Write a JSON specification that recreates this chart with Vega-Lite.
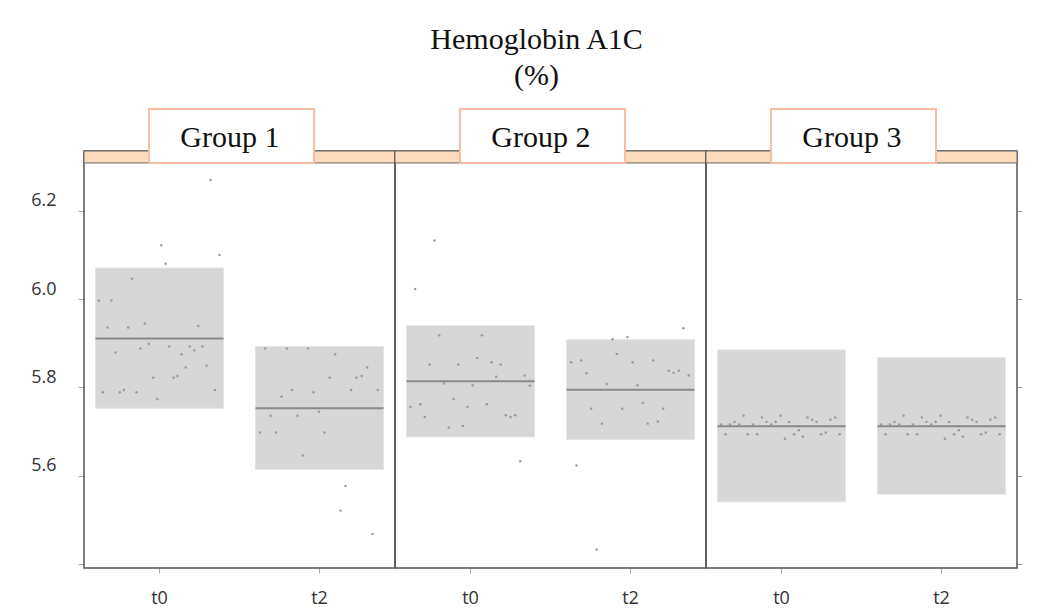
{
  "$schema": "https://vega.github.io/schema/vega-lite/v6.json",
  "padding": {"left": 30, "top": 25, "right": 20, "bottom": 4},
  "background": "white",
  "bounds": "flush",
  "title": {"text": ["Hemoglobin A1C", "(%)"], "font": "Liberation Serif", "fontSize": 30, "fontWeight": "normal", "color": "#111", "anchor": "middle", "dx": 10, "offset": 16, "lineHeight": 36},
  "data": {"values": [
    {"k":"box","g":"Group 1","t":"t0","lo":5.753,"hi":6.0705,"m":5.911},
    {"k":"box","g":"Group 1","t":"t2","lo":5.614,"hi":5.893,"m":5.753},
    {"k":"box","g":"Group 2","t":"t0","lo":5.688,"hi":5.940,"m":5.814},
    {"k":"box","g":"Group 2","t":"t2","lo":5.682,"hi":5.908,"m":5.795},
    {"k":"box","g":"Group 3","t":"t0","lo":5.541,"hi":5.885,"m":5.712},
    {"k":"box","g":"Group 3","t":"t2","lo":5.558,"hi":5.868,"m":5.712},
    {"k":"pt","g":"Group 1","t":"t0","j":0.319,"v":6.270},
    {"k":"pt","g":"Group 1","t":"t0","j":0.011,"v":6.122},
    {"k":"pt","g":"Group 1","t":"t0","j":0.375,"v":6.100},
    {"k":"pt","g":"Group 1","t":"t0","j":0.038,"v":6.080},
    {"k":"pt","g":"Group 1","t":"t0","j":-0.171,"v":6.046},
    {"k":"pt","g":"Group 1","t":"t0","j":-0.379,"v":5.997},
    {"k":"pt","g":"Group 1","t":"t0","j":-0.300,"v":5.997},
    {"k":"pt","g":"Group 1","t":"t0","j":-0.325,"v":5.936},
    {"k":"pt","g":"Group 1","t":"t0","j":-0.196,"v":5.936},
    {"k":"pt","g":"Group 1","t":"t0","j":-0.092,"v":5.945},
    {"k":"pt","g":"Group 1","t":"t0","j":0.242,"v":5.939},
    {"k":"pt","g":"Group 1","t":"t0","j":-0.275,"v":5.879},
    {"k":"pt","g":"Group 1","t":"t0","j":-0.119,"v":5.888},
    {"k":"pt","g":"Group 1","t":"t0","j":-0.067,"v":5.899},
    {"k":"pt","g":"Group 1","t":"t0","j":0.061,"v":5.893},
    {"k":"pt","g":"Group 1","t":"t0","j":0.138,"v":5.875},
    {"k":"pt","g":"Group 1","t":"t0","j":0.189,"v":5.893},
    {"k":"pt","g":"Group 1","t":"t0","j":0.217,"v":5.884},
    {"k":"pt","g":"Group 1","t":"t0","j":0.269,"v":5.893},
    {"k":"pt","g":"Group 1","t":"t0","j":0.164,"v":5.845},
    {"k":"pt","g":"Group 1","t":"t0","j":0.294,"v":5.849},
    {"k":"pt","g":"Group 1","t":"t0","j":-0.039,"v":5.822},
    {"k":"pt","g":"Group 1","t":"t0","j":0.088,"v":5.822},
    {"k":"pt","g":"Group 1","t":"t0","j":0.113,"v":5.826},
    {"k":"pt","g":"Group 1","t":"t0","j":-0.354,"v":5.789},
    {"k":"pt","g":"Group 1","t":"t0","j":-0.248,"v":5.789},
    {"k":"pt","g":"Group 1","t":"t0","j":-0.223,"v":5.794},
    {"k":"pt","g":"Group 1","t":"t0","j":-0.144,"v":5.789},
    {"k":"pt","g":"Group 1","t":"t0","j":-0.014,"v":5.774},
    {"k":"pt","g":"Group 1","t":"t0","j":0.346,"v":5.794},
    {"k":"pt","g":"Group 1","t":"t2","j":-0.339,"v":5.888},
    {"k":"pt","g":"Group 1","t":"t2","j":-0.204,"v":5.888},
    {"k":"pt","g":"Group 1","t":"t2","j":-0.071,"v":5.888},
    {"k":"pt","g":"Group 1","t":"t2","j":0.098,"v":5.875},
    {"k":"pt","g":"Group 1","t":"t2","j":0.298,"v":5.845},
    {"k":"pt","g":"Group 1","t":"t2","j":0.064,"v":5.822},
    {"k":"pt","g":"Group 1","t":"t2","j":0.231,"v":5.822},
    {"k":"pt","g":"Group 1","t":"t2","j":0.264,"v":5.826},
    {"k":"pt","g":"Group 1","t":"t2","j":-0.171,"v":5.794},
    {"k":"pt","g":"Group 1","t":"t2","j":-0.237,"v":5.779},
    {"k":"pt","g":"Group 1","t":"t2","j":-0.037,"v":5.789},
    {"k":"pt","g":"Group 1","t":"t2","j":0.198,"v":5.794},
    {"k":"pt","g":"Group 1","t":"t2","j":0.364,"v":5.794},
    {"k":"pt","g":"Group 1","t":"t2","j":-0.004,"v":5.745},
    {"k":"pt","g":"Group 1","t":"t2","j":-0.306,"v":5.736},
    {"k":"pt","g":"Group 1","t":"t2","j":-0.137,"v":5.736},
    {"k":"pt","g":"Group 1","t":"t2","j":-0.373,"v":5.698},
    {"k":"pt","g":"Group 1","t":"t2","j":-0.271,"v":5.698},
    {"k":"pt","g":"Group 1","t":"t2","j":0.031,"v":5.698},
    {"k":"pt","g":"Group 1","t":"t2","j":-0.104,"v":5.646},
    {"k":"pt","g":"Group 1","t":"t2","j":0.163,"v":5.577},
    {"k":"pt","g":"Group 1","t":"t2","j":0.131,"v":5.521},
    {"k":"pt","g":"Group 1","t":"t2","j":0.331,"v":5.468},
    {"k":"pt","g":"Group 2","t":"t0","j":-0.225,"v":6.133},
    {"k":"pt","g":"Group 2","t":"t0","j":-0.346,"v":6.023},
    {"k":"pt","g":"Group 2","t":"t0","j":-0.196,"v":5.918},
    {"k":"pt","g":"Group 2","t":"t0","j":0.071,"v":5.918},
    {"k":"pt","g":"Group 2","t":"t0","j":0.042,"v":5.867},
    {"k":"pt","g":"Group 2","t":"t0","j":-0.256,"v":5.852},
    {"k":"pt","g":"Group 2","t":"t0","j":-0.077,"v":5.852},
    {"k":"pt","g":"Group 2","t":"t0","j":0.131,"v":5.857},
    {"k":"pt","g":"Group 2","t":"t0","j":0.189,"v":5.852},
    {"k":"pt","g":"Group 2","t":"t0","j":0.161,"v":5.824},
    {"k":"pt","g":"Group 2","t":"t0","j":0.339,"v":5.827},
    {"k":"pt","g":"Group 2","t":"t0","j":-0.167,"v":5.809},
    {"k":"pt","g":"Group 2","t":"t0","j":0.013,"v":5.805},
    {"k":"pt","g":"Group 2","t":"t0","j":0.371,"v":5.804},
    {"k":"pt","g":"Group 2","t":"t0","j":-0.106,"v":5.774},
    {"k":"pt","g":"Group 2","t":"t0","j":-0.375,"v":5.756},
    {"k":"pt","g":"Group 2","t":"t0","j":-0.314,"v":5.762},
    {"k":"pt","g":"Group 2","t":"t0","j":-0.019,"v":5.756},
    {"k":"pt","g":"Group 2","t":"t0","j":0.102,"v":5.762},
    {"k":"pt","g":"Group 2","t":"t0","j":-0.286,"v":5.733},
    {"k":"pt","g":"Group 2","t":"t0","j":0.221,"v":5.737},
    {"k":"pt","g":"Group 2","t":"t0","j":0.250,"v":5.733},
    {"k":"pt","g":"Group 2","t":"t0","j":0.279,"v":5.737},
    {"k":"pt","g":"Group 2","t":"t0","j":-0.136,"v":5.709},
    {"k":"pt","g":"Group 2","t":"t0","j":-0.048,"v":5.713},
    {"k":"pt","g":"Group 2","t":"t0","j":0.311,"v":5.633},
    {"k":"pt","g":"Group 2","t":"t2","j":0.331,"v":5.934},
    {"k":"pt","g":"Group 2","t":"t2","j":-0.112,"v":5.909},
    {"k":"pt","g":"Group 2","t":"t2","j":-0.019,"v":5.914},
    {"k":"pt","g":"Group 2","t":"t2","j":-0.086,"v":5.876},
    {"k":"pt","g":"Group 2","t":"t2","j":-0.371,"v":5.857},
    {"k":"pt","g":"Group 2","t":"t2","j":-0.308,"v":5.861},
    {"k":"pt","g":"Group 2","t":"t2","j":0.013,"v":5.857},
    {"k":"pt","g":"Group 2","t":"t2","j":0.142,"v":5.861},
    {"k":"pt","g":"Group 2","t":"t2","j":-0.275,"v":5.832},
    {"k":"pt","g":"Group 2","t":"t2","j":0.239,"v":5.838},
    {"k":"pt","g":"Group 2","t":"t2","j":0.269,"v":5.833},
    {"k":"pt","g":"Group 2","t":"t2","j":0.302,"v":5.838},
    {"k":"pt","g":"Group 2","t":"t2","j":0.364,"v":5.827},
    {"k":"pt","g":"Group 2","t":"t2","j":-0.148,"v":5.808},
    {"k":"pt","g":"Group 2","t":"t2","j":0.044,"v":5.805},
    {"k":"pt","g":"Group 2","t":"t2","j":-0.246,"v":5.752},
    {"k":"pt","g":"Group 2","t":"t2","j":-0.052,"v":5.752},
    {"k":"pt","g":"Group 2","t":"t2","j":0.077,"v":5.765},
    {"k":"pt","g":"Group 2","t":"t2","j":0.204,"v":5.752},
    {"k":"pt","g":"Group 2","t":"t2","j":-0.179,"v":5.718},
    {"k":"pt","g":"Group 2","t":"t2","j":0.108,"v":5.718},
    {"k":"pt","g":"Group 2","t":"t2","j":0.171,"v":5.723},
    {"k":"pt","g":"Group 2","t":"t2","j":-0.337,"v":5.623},
    {"k":"pt","g":"Group 2","t":"t2","j":-0.211,"v":5.433},
    {"k":"pt","g":"Group 3","t":"t0","j":-0.379,"v":5.716},
    {"k":"pt","g":"Group 3","t":"t0","j":-0.323,"v":5.716},
    {"k":"pt","g":"Group 3","t":"t0","j":-0.294,"v":5.722},
    {"k":"pt","g":"Group 3","t":"t0","j":-0.264,"v":5.716},
    {"k":"pt","g":"Group 3","t":"t0","j":-0.237,"v":5.736},
    {"k":"pt","g":"Group 3","t":"t0","j":-0.350,"v":5.694},
    {"k":"pt","g":"Group 3","t":"t0","j":-0.211,"v":5.694},
    {"k":"pt","g":"Group 3","t":"t0","j":-0.179,"v":5.716},
    {"k":"pt","g":"Group 3","t":"t0","j":-0.152,"v":5.694},
    {"k":"pt","g":"Group 3","t":"t0","j":-0.123,"v":5.732},
    {"k":"pt","g":"Group 3","t":"t0","j":-0.094,"v":5.722},
    {"k":"pt","g":"Group 3","t":"t0","j":-0.064,"v":5.716},
    {"k":"pt","g":"Group 3","t":"t0","j":-0.036,"v":5.722},
    {"k":"pt","g":"Group 3","t":"t0","j":-0.006,"v":5.736},
    {"k":"pt","g":"Group 3","t":"t0","j":0.021,"v":5.684},
    {"k":"pt","g":"Group 3","t":"t0","j":0.048,"v":5.722},
    {"k":"pt","g":"Group 3","t":"t0","j":0.079,"v":5.694},
    {"k":"pt","g":"Group 3","t":"t0","j":0.108,"v":5.703},
    {"k":"pt","g":"Group 3","t":"t0","j":0.133,"v":5.689},
    {"k":"pt","g":"Group 3","t":"t0","j":0.163,"v":5.732},
    {"k":"pt","g":"Group 3","t":"t0","j":0.192,"v":5.727},
    {"k":"pt","g":"Group 3","t":"t0","j":0.219,"v":5.722},
    {"k":"pt","g":"Group 3","t":"t0","j":0.248,"v":5.694},
    {"k":"pt","g":"Group 3","t":"t0","j":0.277,"v":5.698},
    {"k":"pt","g":"Group 3","t":"t0","j":0.306,"v":5.727},
    {"k":"pt","g":"Group 3","t":"t0","j":0.336,"v":5.732},
    {"k":"pt","g":"Group 3","t":"t0","j":0.364,"v":5.694},
    {"k":"pt","g":"Group 3","t":"t2","j":-0.379,"v":5.716},
    {"k":"pt","g":"Group 3","t":"t2","j":-0.323,"v":5.716},
    {"k":"pt","g":"Group 3","t":"t2","j":-0.294,"v":5.722},
    {"k":"pt","g":"Group 3","t":"t2","j":-0.264,"v":5.716},
    {"k":"pt","g":"Group 3","t":"t2","j":-0.237,"v":5.736},
    {"k":"pt","g":"Group 3","t":"t2","j":-0.350,"v":5.694},
    {"k":"pt","g":"Group 3","t":"t2","j":-0.211,"v":5.694},
    {"k":"pt","g":"Group 3","t":"t2","j":-0.179,"v":5.716},
    {"k":"pt","g":"Group 3","t":"t2","j":-0.152,"v":5.694},
    {"k":"pt","g":"Group 3","t":"t2","j":-0.123,"v":5.732},
    {"k":"pt","g":"Group 3","t":"t2","j":-0.094,"v":5.722},
    {"k":"pt","g":"Group 3","t":"t2","j":-0.064,"v":5.716},
    {"k":"pt","g":"Group 3","t":"t2","j":-0.036,"v":5.722},
    {"k":"pt","g":"Group 3","t":"t2","j":-0.006,"v":5.736},
    {"k":"pt","g":"Group 3","t":"t2","j":0.021,"v":5.684},
    {"k":"pt","g":"Group 3","t":"t2","j":0.048,"v":5.722},
    {"k":"pt","g":"Group 3","t":"t2","j":0.079,"v":5.694},
    {"k":"pt","g":"Group 3","t":"t2","j":0.108,"v":5.703},
    {"k":"pt","g":"Group 3","t":"t2","j":0.133,"v":5.689},
    {"k":"pt","g":"Group 3","t":"t2","j":0.163,"v":5.732},
    {"k":"pt","g":"Group 3","t":"t2","j":0.192,"v":5.727},
    {"k":"pt","g":"Group 3","t":"t2","j":0.219,"v":5.722},
    {"k":"pt","g":"Group 3","t":"t2","j":0.248,"v":5.694},
    {"k":"pt","g":"Group 3","t":"t2","j":0.277,"v":5.698},
    {"k":"pt","g":"Group 3","t":"t2","j":0.306,"v":5.727},
    {"k":"pt","g":"Group 3","t":"t2","j":0.336,"v":5.732},
    {"k":"pt","g":"Group 3","t":"t2","j":0.364,"v":5.694}
  ]},
  "facet": {"column": {"field": "g", "type": "nominal", "header": {"labels": false, "title": null}}},
  "spacing": 0,
  "spec": {
    "width": 311,
    "height": 417,
    "encoding": {
      "x": {"field": "t", "type": "nominal", "scale": {"domain": ["t0", "t2"], "paddingInner": 0.2, "paddingOuter": 0.072}, "axis": {"title": null, "labelAngle": 0, "labelFont": "Open Sans", "labelFontSize": 18, "labelColor": "#333", "tickSize": 5, "tickColor": "#aaa", "labelPadding": 16, "domain": false}}
    },
    "resolve": {"axis": {"y": "independent"}},
    "layer": [
      {
        "transform": [{"filter": "datum.k == 'box' && datum.t == 't0'"}],
        "mark": {"type": "rect", "fill": "#fcdcbc", "stroke": "#666", "strokeWidth": 1},
        "encoding": {
          "x": null,
          "y": {"datum": 6.3085, "type": "quantitative", "axis": null},
          "y2": {"datum": 6.3356}
        }
      },
      {
        "transform": [{"filter": "datum.k == 'box'"}],
        "mark": {"type": "rect", "fill": "#d7d7d7", "stroke": "#e4e4e4", "strokeWidth": 1},
        "encoding": {
          "x": {"field": "t", "type": "nominal", "bandPosition": 0},
          "x2": {"field": "t", "bandPosition": 1},
          "y": {"field": "lo", "type": "quantitative", "scale": {"domain": [5.391, 6.3356], "nice": false, "zero": false}, "axis": {"title": null, "values": [5.4, 5.6, 5.8, 6.0, 6.2], "labelExpr": "datum.value < 5.5 ? '' : format(datum.value, '.1f')", "labelOffset": -10, "tickSize": 6, "tickColor": "#aaa", "labelPadding": 22, "labelFont": "Open Sans", "labelFontSize": 18, "labelColor": "#333", "domain": false, "grid": false}},
          "y2": {"field": "hi"}
        }
      },
      {
        "transform": [{"filter": "datum.k == 'box'"}],
        "mark": {"type": "rule", "color": "#888", "strokeWidth": 2},
        "encoding": {
          "x": {"field": "t", "type": "nominal", "bandPosition": 0},
          "x2": {"field": "t", "bandPosition": 1},
          "y": {"field": "m", "type": "quantitative", "axis": {"orient": "right", "title": null, "values": [5.4, 5.6, 5.8, 6.0, 6.2], "labels": false, "tickSize": 5, "tickColor": "#999", "domain": false, "grid": false}}
        }
      },
      {
        "transform": [{"filter": "datum.k == 'pt'"}],
        "mark": {"type": "circle", "size": 6, "color": "#9a9a9a", "opacity": 1},
        "encoding": {
          "xOffset": {"field": "j", "type": "quantitative", "scale": {"domain": [-0.4, 0.4]}},
          "y": {"field": "v", "type": "quantitative", "axis": null}
        }
      },
      {
        "transform": [{"filter": "datum.k == 'box' && datum.t == 't0'"}],
        "mark": {"type": "rect", "fill": "white", "stroke": "#f9bda4", "strokeWidth": 2},
        "encoding": {
          "x": {"datum": "t0", "bandPosition": 0.418},
          "x2": {"datum": "t2", "bandPosition": 0.457},
          "y": {"datum": 6.3085, "type": "quantitative", "axis": null},
          "y2": {"datum": 6.4305}
        }
      },
      {
        "transform": [{"filter": "datum.k == 'box' && datum.t == 't0'"}],
        "mark": {"type": "text", "font": "Liberation Serif", "fontSize": 30, "color": "#111", "align": "center", "baseline": "alphabetic"},
        "encoding": {
          "x": {"datum": "t0", "bandPosition": 1.05},
          "y": {"datum": 6.345, "type": "quantitative", "axis": null},
          "text": {"field": "g"}
        }
      }
    ]
  },
  "config": {"view": {"stroke": "#555", "strokeWidth": 1.5}}
}
